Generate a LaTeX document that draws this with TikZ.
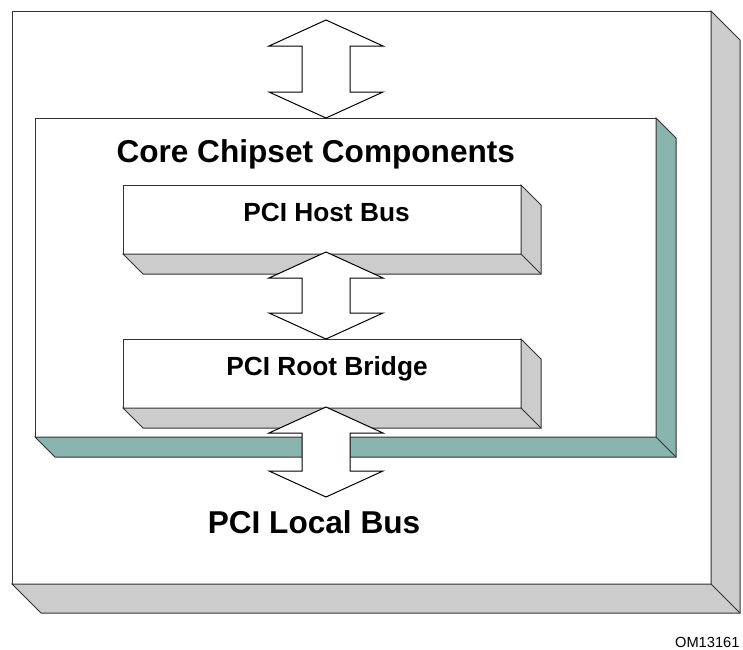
\documentclass[tikz,border=0pt]{standalone}
\usepackage{fontspec}
\setmainfont{Liberation Sans}
\usetikzlibrary{calc,fit}

\definecolor{slabgray}{RGB}{204,204,204}
\definecolor{slabteal}{RGB}{138,180,174}
\definecolor{rimgray}{RGB}{51,51,51}

\tikzset{every picture/.style={line width=0.75pt}}
\tikzset{
  face/.style={draw=rimgray, fill=white, inner sep=0pt, outer sep=0pt},
  rim/.style={draw=rimgray, line join=miter},
  busarrow/.style={draw=black, fill=white, line join=miter},
  headlabel/.style={font=\fontsize{23.7}{26}\selectfont\bfseries, inner sep=0pt},
  boxlabel/.style={font=\fontsize{19.7}{22}\selectfont\bfseries, inner sep=0pt, anchor=base},
}

% side and bottom faces of a box node: #1 node, #2 depth, #3 colour
\newcommand{\slab}[3]{%
  \draw[rim, fill=#3] (#1.north east) -- ++(#2,#2) -- ($(#1.south east)+(#2,#2)$) -- ($(#1.south west)+(#2,#2)$) -- (#1.south west) -- (#1.south east) -- cycle;
  \draw[rim] (#1.south east) -- ++(#2,#2);
}
% double block arrow from tip #1 down to tip #2
\newcommand{\bidir}[2]{%
  \draw[busarrow] (#1) -- ($(#1)+(57,26)$) -- ($(#1)+(24,26)$) -- ($(#2)+(24,-26)$) -- ($(#2)+(57,-26)$) -- (#2)
    -- ($(#2)+(-57,-26)$) -- ($(#2)+(-24,-26)$) -- ($(#1)+(-24,26)$) -- ($(#1)+(-57,26)$) -- cycle;
}

\begin{document}
\begin{tikzpicture}[x=0.75pt,y=0.75pt,yscale=-1,xscale=1]
\useasboundingbox (0,0) rectangle (743,650);

%Shape: outer board
\node[face, fit={(12,11) (711,584)}] (outer) {};
\slab{outer}{29}{slabgray}
%Shape: core chipset box
\node[face, fit={(35,118) (656,437)}] (core) {};
\slab{core}{20}{slabteal}
%Shape: host bus and root bridge
\node[face, fit={(123,185) (521,254)}] (host) {};
\slab{host}{20}{slabgray}
\node[face, fit={(123,339) (521,408)}] (root) {};
\slab{root}{20}{slabgray}

%Block arrows
\coordinate (topin) at (326,20);
\coordinate (corein) at (topin |- core.north);
\coordinate (hostout) at ($(host.south)+(4,-2)$);
\coordinate (rootin) at ($(root.north)+(4,0)$);
\coordinate (rootout) at ($(root.south)+(4,-1)$);
\coordinate (localbus) at (326,497);
\bidir{topin}{corein}
\bidir{hostout}{rootin}
\bidir{rootout}{localbus}

% Text Node
\node[headlabel, anchor=base west] (corelbl) at ($(core.north west)+(81,44)$) {Core Chipset Components};
\node[boxlabel] (hostlbl) at ($(host.north)+(4.5,36)$) {PCI Host Bus};
\node[boxlabel] (rootlbl) at ($(root.north)+(5,36)$) {PCI Root Bridge};
\node[headlabel, anchor=base] (locallbl) at (314,533) {PCI Local Bus};
\node[font=\fontsize{11}{13}\selectfont, inner sep=0pt, anchor=base east] (figid) at (740,647) {OM13161};

\end{tikzpicture}
\end{document}
